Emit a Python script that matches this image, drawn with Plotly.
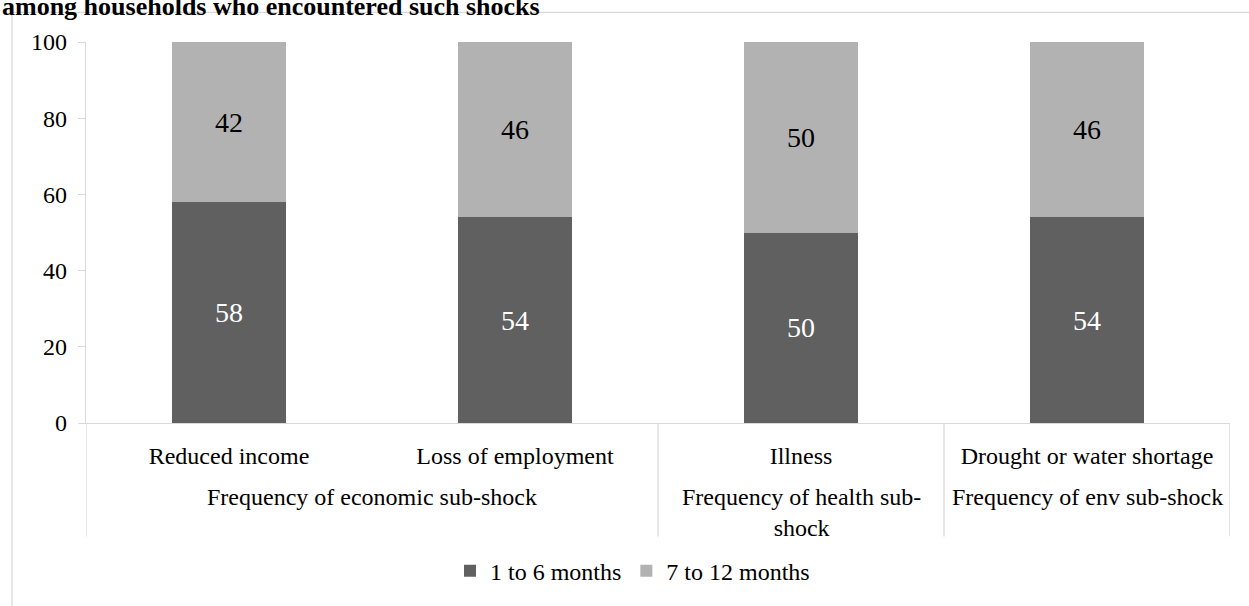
import plotly.graph_objects as go

# ---- data ----
groups = ["Frequency of economic sub-shock", "Frequency of economic sub-shock",
          "Frequency of health sub-<br>shock", "Frequency of env sub-shock"]
categories = ["Reduced income", "Loss of employment", "Illness", "Drought or water shortage"]
short_1_6 = [58, 54, 50, 54]
long_7_12 = [42, 46, 50, 46]
series_names = ["1 to 6 months", "7 to 12 months"]
title_text = "among households who encountered such shocks"

# ---- layout geometry (pixels) ----
W, H = 1249, 606
PL, PR, PT, PB = 86, 1230, 42, 428
FONT = "Liberation Serif"
DARK, LIGHT, LINE = "#606060", "#b2b2b2", "#d9d9d9"

def px_x(x):
    return (x - PL) / (PR - PL)

def px_y(y):
    return (PB - y) / (PB - PT)

fig = go.Figure()
fig.add_trace(go.Bar(x=categories, y=short_1_6, name=series_names[0],
                     marker=dict(color=DARK, line=dict(width=0)),
                     text=short_1_6, textposition="inside", insidetextanchor="middle",
                     textfont=dict(family=FONT, size=28, color="white")))
fig.add_trace(go.Bar(x=categories, y=long_7_12, name=series_names[1],
                     marker=dict(color=LIGHT, line=dict(width=0)),
                     text=long_7_12, textposition="inside", insidetextanchor="middle",
                     textfont=dict(family=FONT, size=28, color="black")))

shapes = []
# outer chart border
shapes.append(dict(type="rect", xref="paper", yref="paper",
                   x0=px_x(12), x1=px_x(W + 20), y0=px_y(H + 20), y1=px_y(12),
                   line=dict(color=LINE, width=1.3), fillcolor="rgba(0,0,0,0)", layer="below"))
# category dividers below axis
for xb in [-0.5, 1.5, 2.5, 3.5]:
    shapes.append(dict(type="line", xref="x", yref="paper", x0=xb, x1=xb,
                       y0=0, y1=px_y(543), line=dict(color=LINE, width=1.3)))

annotations = []
# group labels
group_pos = [(0.5, groups[0]), (2, groups[2]), (3, groups[3])]
for gx, gt in group_pos:
    annotations.append(dict(x=gx, y=px_y(488), xref="x", yref="paper", text=gt,
                            showarrow=False, xanchor="center", yanchor="top",
                            font=dict(family=FONT, size=24, color="black")))
# title (partially cut at top)
annotations.append(dict(x=px_x(0), y=px_y(23), xref="paper", yref="paper",
                        text="<b>" + title_text + "</b>", showarrow=False,
                        xanchor="left", yanchor="bottom",
                        font=dict(family=FONT, size=26, color="black")))

fig.update_layout(
    width=W, height=H,
    margin=dict(l=PL, r=W - PR, t=PT, b=H - PB, pad=0),
    barmode="stack", bargap=0.6,
    plot_bgcolor="white", paper_bgcolor="white",
    font=dict(family=FONT, size=24, color="black"),
    showlegend=True,
    legend=dict(orientation="h", x=px_x(450), xanchor="left", xref="paper",
                y=px_y(578), yanchor="middle", font=dict(family=FONT, size=24),
                itemwidth=30, tracegroupgap=0, traceorder="normal"),
    shapes=shapes, annotations=annotations,
)
fig.update_xaxes(range=[-0.5, 3.5], showline=True, linecolor=LINE, linewidth=1.3,
                 ticks="", showgrid=False, tickfont=dict(family=FONT, size=24),
                 ticklabelstandoff=11)
fig.update_yaxes(range=[0, 100], dtick=20, showline=True, linecolor=LINE, linewidth=1.3,
                 ticks="outside", ticklen=7, tickcolor=LINE, showgrid=False,
                 zeroline=False, tickfont=dict(family=FONT, size=24), ticklabelstandoff=6)

fig.write_html("out.html")
